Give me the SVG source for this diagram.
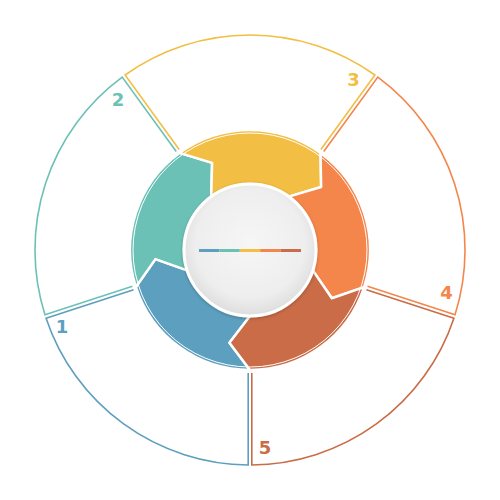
<svg xmlns="http://www.w3.org/2000/svg" width="500" height="500" viewBox="0 0 500 500">
  <defs>
    <radialGradient id="hub" cx="50%" cy="45%" r="55%">
      <stop offset="0" stop-color="#f6f6f6"/>
      <stop offset="0.75" stop-color="#eeeeee"/>
      <stop offset="1" stop-color="#dddddd"/>
    </radialGradient>
    <filter id="shadow" x="-20%" y="-20%" width="140%" height="140%">
      <feDropShadow dx="0" dy="1" stdDeviation="1.5" flood-color="#000" flood-opacity="0.25"/>
    </filter>
  </defs>
  <style>
    .seg { stroke: #ffffff; stroke-width: 2.5; stroke-linejoin: round; }
    .outline { fill: none; stroke-width: 1.6; }
    .num { font-family: "DejaVu Sans", "Liberation Sans", sans-serif; font-weight: bold; font-size: 18px; text-anchor: middle; }
    .blue { fill: #5d9fbe; } .teal { fill: #6cc1b6; } .yellow { fill: #f2be43; } .orange { fill: #f4864b; } .dark { fill: #c96c47; }
    .sblue { stroke: #5d9fbe; } .steal { stroke: #6cc1b6; } .syellow { stroke: #f2be43; } .sorange { stroke: #f4864b; } .sdark { stroke: #c96c47; }
  </style>
  <rect width="500" height="500" fill="#ffffff"/>

  <g id="connectors">
    <path class="outline sblue" d="M 248.2 373 L 248.2 465 A 215 215 0 0 1 46.08 318.15 L 133.58 289.72"/>
    <path class="outline steal" d="M 132.46 286.30 L 44.96 314.73 A 215 215 0 0 1 122.17 77.12 L 176.24 151.55"/>
    <path class="outline syellow" d="M 179.16 149.43 L 125.09 75.00 A 215 215 0 0 1 374.91 75.00 L 320.84 149.43"/>
    <path class="outline sorange" d="M 323.76 151.55 L 377.83 77.12 A 215 215 0 0 1 455.04 314.73 L 367.54 286.30"/>
    <path class="outline sdark" d="M 366.42 289.72 L 453.92 318.15 A 215 215 0 0 1 251.8 465 L 251.8 373"/>
  </g>

  <g id="node-1">
    <path class="seg blue" d="M 250 370 A 120 120 0 0 1 135.87 287.08 L 155.44 259.11 L 187.23 270.40 A 66 66 0 0 0 250 316 L 229.44 342.75 Z"/>
    <text class="num blue" x="62" y="333">1</text>
  </g>
  <g id="node-2">
    <path class="seg teal" d="M 135.87 287.08 A 120 120 0 0 1 179.47 152.92 L 212.12 162.88 L 211.21 196.60 A 66 66 0 0 0 187.23 270.40 L 155.44 259.11 Z"/>
    <text class="num teal" x="118" y="105.5">2</text>
  </g>
  <g id="node-3">
    <path class="seg yellow" d="M 179.47 152.92 A 120 120 0 0 1 320.53 152.92 L 321.15 187.05 L 288.79 196.60 A 66 66 0 0 0 211.21 196.60 L 212.12 162.88 Z"/>
    <text class="num yellow" x="353.5" y="85.5">3</text>
  </g>
  <g id="node-4">
    <path class="seg orange" d="M 320.53 152.92 A 120 120 0 0 1 364.13 287.08 L 331.85 298.22 L 312.77 270.40 A 66 66 0 0 0 288.79 196.60 L 321.15 187.05 Z"/>
    <text class="num orange" x="446.5" y="299">4</text>
  </g>
  <g id="node-5">
    <path class="seg dark" d="M 364.13 287.08 A 120 120 0 0 1 250 370 L 229.44 342.75 L 250 316 A 66 66 0 0 0 312.77 270.40 L 331.85 298.22 Z"/>
    <text class="num dark" x="265" y="454">5</text>
  </g>

  <circle cx="250" cy="250" r="117" fill="none" stroke="#ffffff" stroke-width="1"/>

  <g id="hub">
    <circle cx="250" cy="250" r="66" fill="url(#hub)" stroke="#ffffff" stroke-width="3" filter="url(#shadow)"/>
    <rect x="199" y="249" width="20.4" height="3" class="blue"/>
    <rect x="219.4" y="249" width="20.4" height="3" class="teal"/>
    <rect x="239.8" y="249" width="20.4" height="3" class="yellow"/>
    <rect x="260.2" y="249" width="20.4" height="3" class="orange"/>
    <rect x="280.6" y="249" width="20.4" height="3" class="dark"/>
  </g>
</svg>
